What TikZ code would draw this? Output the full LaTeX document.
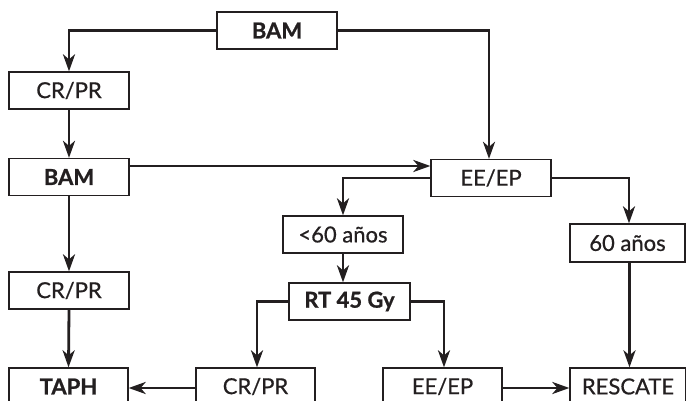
\documentclass[tikz,border=0pt]{standalone}
\usepackage{fontspec}
\setmainfont{Lato}[UprightFeatures={FakeBold=0.7},BoldFeatures={FakeBold=0.9}]
\usetikzlibrary{arrows.meta}
\definecolor{ink}{HTML}{231F20}
\begin{document}
\begin{tikzpicture}[x=1pt,y=-1pt,
  box/.style={draw=ink,line width=1.3pt,fill=white,minimum height=37pt,inner sep=0pt,text=ink,font=\fontsize{22}{24}\selectfont},
  bbox/.style={box,font=\fontsize{22}{24}\selectfont\bfseries},
  arr/.style={draw=ink,line width=2.8pt,-{Stealth[length=17pt,width=12pt,inset=5pt]}}]
\clip (0,0) rectangle (686,401);
\fill[white] (0,0) rectangle (686,401);
\node[bbox,minimum width=120pt] (bam1) at (277,30.5) {BAM};
\node[box,minimum width=120pt] (cr1) at (69,90.5) {CR/PR};
\node[bbox,minimum width=120pt] (bam2) at (69,177) {BAM};
\node[box,minimum width=120pt] (ee1) at (491,178) {EE/EP};
\node[box,minimum width=120pt] (cr2) at (69,290.5) {CR/PR};
\node[bbox,minimum width=119pt] (taph) at (68.5,386.5) {TAPH};
\node[box,minimum width=120pt] (lt60) at (343,234.5) {<60 años};
\node[box,minimum width=115pt,minimum height=38pt] (s60) at (627.5,243) {60 años};
\node[bbox,minimum width=121pt] (rt) at (349.5,301.5) {RT 45 Gy};
\node[box,minimum width=119pt] (cr3) at (255.5,386.5) {CR/PR};
\node[box,minimum width=119pt] (ee2) at (442.5,386.5) {EE/EP};
\node[box,minimum width=116pt] (resc) at (628,386.5) {RESCATE};

\draw[arr] (bam1.west) -| (cr1.north);
\draw[arr] (bam1.east) -| ([xshift=-2pt]ee1.north);
\draw[arr] (cr1.south) -- (bam2.north);
\draw[arr] ([yshift=11pt]bam2.east) -- ([yshift=11pt]bam2.east -| ee1.west);
\draw[arr] (ee1.west) -| (lt60.north);
\draw[arr] (ee1.east) -| ([xshift=1.5pt]s60.north);
\draw[arr] (lt60.south) -- (lt60.south |- rt.north);
\draw[arr] (rt.west) -| ([xshift=1.5pt]cr3.north);
\draw[arr] (rt.east) -| ([xshift=1.5pt]ee2.north);
\draw[arr] ([xshift=2pt]s60.south) -- ([xshift=2pt]s60.south |- resc.north);
\draw[arr] ([yshift=-1.5pt]cr3.west) -- ([yshift=-1.5pt]taph.east);
\draw[arr] ([yshift=-1.5pt]ee2.east) -- ([yshift=-1.5pt]resc.west);
\draw[arr] (bam2.south) -- (cr2.north);
\draw[arr] (cr2.south) -- (taph.north);
\end{tikzpicture}
\end{document}
